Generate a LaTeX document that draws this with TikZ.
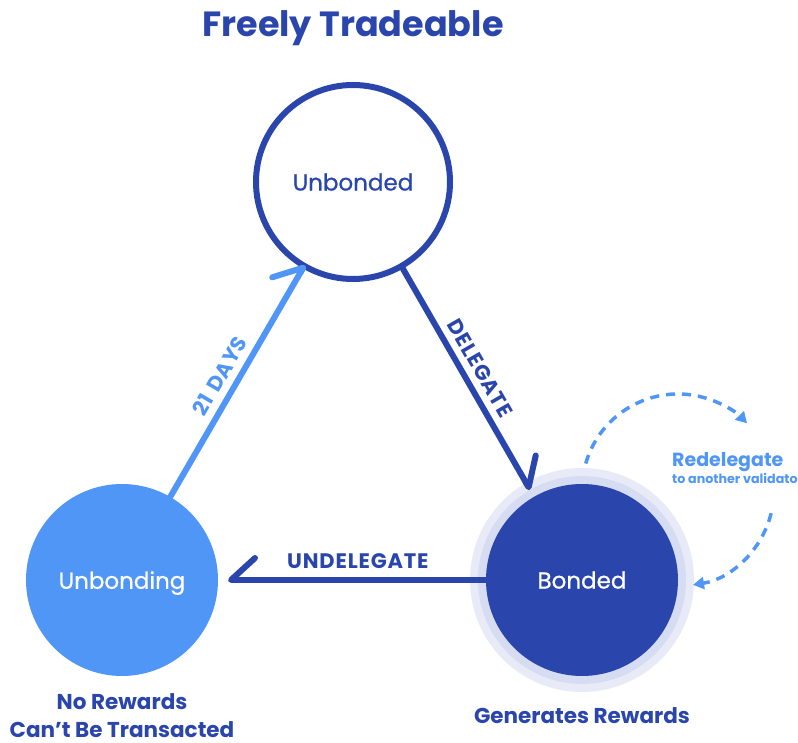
\documentclass[tikz,border=0pt]{standalone}
\usepackage{fontspec}
\setmainfont{Poppins}
\newfontfamily\medfont{Poppins}[FakeBold=0.7]
\usetikzlibrary{arrows.meta}
\definecolor{dkblue}{RGB}{42,70,172}
\definecolor{ltblue}{RGB}{80,150,246}
\definecolor{haloA}{RGB}{232,235,247}
\definecolor{haloB}{RGB}{214,220,241}
\begin{document}
\begin{tikzpicture}[x=1pt,y=1pt,
  state/.style={circle, inner sep=0pt, outer sep=0pt, text depth=0pt,
    font=\medfont\fontsize{23}{26}\selectfont},
  flow/.style={line width=6pt, line cap=round, line join=round},
  barb/.style={-{Straight Barb[harpoon, length=24pt, width=44pt, round]}},
  barbswap/.style={-{Straight Barb[harpoon, swap, length=24pt, width=44pt, round]}},
  lbl/.style={font=\bfseries\fontsize{21}{24}\selectfont\addfontfeature{LetterSpace=4}, inner sep=0pt},
  caption/.style={font=\bfseries\fontsize{21.5}{24}\selectfont, text=dkblue, inner sep=0pt, text depth=0pt, anchor=base},
  redash/.style={ltblue, line width=3.5pt, dash pattern=on 9pt off 7pt,
    -{Triangle[length=11pt, width=12pt]}}]
\useasboundingbox (0,0) rectangle (798,742);
\fill[white] (0,0) rectangle (798,742);

\node[font=\bfseries\fontsize{35}{40}\selectfont, text=dkblue, anchor=base, inner sep=0pt] (title) at (353,705) {Freely Tradeable};

\node[state, draw=dkblue, line width=6pt, fill=white, minimum size=194pt, outer sep=3pt, text=dkblue] (unbonded) at (353,560) {Unbonded};
\node[state, fill=ltblue, minimum size=192pt, text=white] (unbonding) at (122,162) {Unbonding};
\node[state, fill=haloA, minimum size=224pt] (bondedhalo) at (582,162) {};
\node[state, fill=haloB, minimum size=208pt] (bondedring) at (582,162) {};
\node[state, fill=dkblue, minimum size=192pt, text=white] (bonded) at (582,162) {Bonded};

\draw[flow, ltblue, barb, shorten >=-4pt] (unbonding) -- node[lbl, sloped, above=7pt, pos=0.49, text=ltblue] (days) {21\,\,DAYS} (unbonded);
\draw[flow, dkblue, barb] (unbonded) -- node[lbl, sloped, above=7pt, pos=0.49, text=dkblue] (deleg) {DELEGATE} (bondedring);
\draw[flow, dkblue, barbswap, shorten >=10pt] (bonded) -- node[lbl, above=8pt, pos=0.478, text=dkblue] (undeleg) {UNDELEGATE} (unbonding);

\coordinate (rc) at (678,252);
\draw[redash] ([shift={(164:96)}]rc) arc[start angle=164, end angle=44, radius=96];
\draw[redash] ([shift={(-14:96)}]rc) arc[start angle=-14, end angle=-81, radius=96];

\node[font=\bfseries\fontsize{19}{22}\selectfont, text=ltblue, anchor=base west, inner sep=0pt] (redel) at (672,275) {Redelegate};
\node[font=\bfseries\fontsize{12.7}{15}\selectfont, text=ltblue, anchor=base west, inner sep=0pt] (redel2) at (672,258) {to another validator};

\node[caption] (norew) at (122,33) {No Rewards};
\node[caption] (cant) at (122,5) {Can’t Be Transacted};
\node[caption] (gen) at (582,19) {Generates Rewards};
\end{tikzpicture}
\end{document}
